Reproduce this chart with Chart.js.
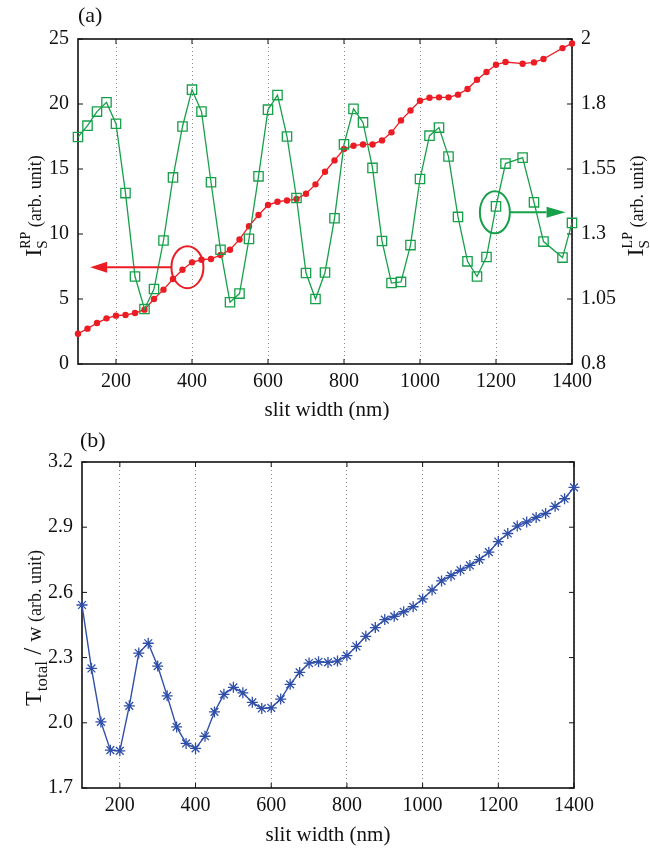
<!DOCTYPE html>
<html>
<head>
<meta charset="utf-8">
<script src="https://cdn.jsdelivr.net/npm/chart.js@4.4.1/dist/chart.umd.min.js"></script>
<style>
  body { margin: 0; background: #fff; }
  #wrap { position: relative; width: 650px; height: 849px; }
  canvas { position: absolute; left: 0; }
</style>
</head>
<body>
<div id="wrap">
  <canvas id="panelA" width="650" height="420" style="top:0"></canvas>
  <canvas id="panelB" width="650" height="429" style="top:420px"></canvas>
</div>
<script>
// ---- data ----
// panel (a): slit widths where IS_RP / IS_LP were sampled
const widthA = [100, 125, 150, 175, 200, 225, 250, 275, 300, 325, 350, 375, 400, 425, 450, 475,
  500, 525, 550, 575, 600, 625, 650, 675, 700, 725, 750, 775, 800, 825, 850, 875, 900, 925, 950,
  975, 1000, 1025, 1050, 1075, 1100, 1125, 1150, 1175, 1200, 1225, 1270, 1300, 1325, 1375, 1400];
const isRP = [2.33, 2.72, 3.15, 3.51, 3.72, 3.77, 3.92, 4.18, 5.0, 5.72, 6.54, 7.25, 7.82, 8.02, 8.08, 8.38,
  8.79, 9.58, 10.6, 11.46, 12.23, 12.48, 12.58, 12.69, 13.1, 13.82, 14.79, 15.66, 16.54, 16.79, 16.89, 16.89, 17.2, 17.82, 18.74,
  19.5, 20.25, 20.48, 20.51, 20.51, 20.72, 21.15, 21.87, 22.46, 23.02, 23.23, 23.1, 23.2, 23.46, 24.3, 24.66];
const isLP = [1.638, 1.68, 1.732, 1.766, 1.687, 1.431, 1.123, 1.003, 1.077, 1.256, 1.489, 1.677, 1.813, 1.732, 1.471, 1.222,
  1.028, 1.06, 1.262, 1.493, 1.739, 1.793, 1.64, 1.413, 1.136, 1.04, 1.138, 1.338, 1.611, 1.742, 1.692, 1.524, 1.254, 1.099, 1.103,
  1.239, 1.483, 1.643, 1.673, 1.566, 1.343, 1.179, 1.123, 1.195, 1.382, 1.54, 1.562, 1.397, 1.252, 1.193, 1.321];

// panel (b)
const widthB = [100, 125, 150, 175, 200, 225, 250, 275, 300, 325, 350, 375, 400, 425, 450, 475,
  500, 525, 550, 575, 600, 625, 650, 675, 700, 725, 750, 775, 800, 825, 850, 875, 900, 925, 950,
  975, 1000, 1025, 1050, 1075, 1100, 1125, 1150, 1175, 1200, 1225, 1250, 1275, 1300, 1325, 1350, 1375, 1400];
const tTotal = [2.542, 2.25, 2.004, 1.874, 1.871, 2.078, 2.321, 2.366, 2.261, 2.124, 1.981, 1.905, 1.882, 1.938, 2.05, 2.131,
  2.163, 2.138, 2.094, 2.066, 2.069, 2.109, 2.177, 2.232, 2.275, 2.281, 2.278, 2.284, 2.309, 2.352, 2.398, 2.438, 2.475, 2.49, 2.511,
  2.534, 2.57, 2.611, 2.653, 2.677, 2.702, 2.724, 2.751, 2.785, 2.834, 2.871, 2.905, 2.924, 2.945, 2.963, 2.996, 3.031, 3.083];

// ticks
const xTicks = [200, 400, 600, 800, 1000, 1200, 1400];
const leftTicksA = [0, 5, 10, 15, 20, 25];
const rightTicksA = [0.8, 1.04, 1.28, 1.52, 1.76, 2.0];
const rightLabelsA = ['0.8', '1.05', '1.3', '1.55', '1.8', '2'];
const ticksB = [1.7, 2.0, 2.3, 2.6, 2.9, 3.2];

const SERIF = '"Liberation Serif", "Times New Roman", serif';
const RED = '#ec1c24';
const GREEN = '#17a04a';
const BLUE = '#2f4fa8';

Chart.defaults.font.family = SERIF;
Chart.defaults.font.size = 20;
Chart.defaults.color = '#111';

const pairs = (xs, ys) => xs.map((x, i) => ({ x: x, y: ys[i] }));
const fixTicks = list => scale => { scale.ticks = list.map(v => ({ value: v })); };

// draws text with sub/superscripts, optionally rotated (reads upward)
function drawRich(ctx, it) {
  ctx.save();
  ctx.fillStyle = '#111';
  ctx.textBaseline = 'alphabetic';
  const w = it.parts.map(p => { ctx.font = p.size + 'px ' + SERIF; return ctx.measureText(p.t).width; });
  let total = 0, pend = 0;
  it.parts.forEach((p, i) => {
    if (p.stack) { pend = w[i]; } else { total += Math.max(w[i], pend); pend = 0; }
  });
  ctx.translate(it.x, it.y);
  if (it.rotate) ctx.rotate(-Math.PI / 2);
  let x = it.align === 'left' ? 0 : -total / 2;
  pend = 0;
  it.parts.forEach((p, i) => {
    ctx.font = p.size + 'px ' + SERIF;
    ctx.fillText(p.t, x, p.dy || 0);
    if (p.stack) { pend = w[i]; } else { x += Math.max(w[i], pend); pend = 0; }
  });
  ctx.restore();
}

const richTitles = {
  id: 'richTitles',
  afterDraw(chart, args, opts) {
    (opts.items || []).forEach(it => drawRich(chart.ctx, it));
  }
};

// matlab-like box with inward tick marks
const boxFrame = {
  id: 'boxFrame',
  beforeDatasetsDraw(chart, args, opts) {
    const { ctx, chartArea: a } = chart;
    const L = 5;
    ctx.save();
    ctx.strokeStyle = '#111';
    ctx.lineWidth = 1;
    ctx.beginPath();
    const xs = chart.scales.x;
    xs.ticks.forEach(t => {
      const p = xs.getPixelForValue(t.value);
      ctx.moveTo(p, a.bottom); ctx.lineTo(p, a.bottom - L);
      ctx.moveTo(p, a.top); ctx.lineTo(p, a.top + L);
    });
    const yl = chart.scales.y;
    const yr = chart.scales.y2 || yl;
    yl.ticks.forEach(t => {
      const p = yl.getPixelForValue(t.value);
      ctx.moveTo(a.left, p); ctx.lineTo(a.left + L, p);
    });
    yr.ticks.forEach(t => {
      const p = yr.getPixelForValue(t.value);
      ctx.moveTo(a.right, p); ctx.lineTo(a.right - L, p);
    });
    ctx.stroke();
    ctx.lineWidth = 1.6;
    ctx.strokeRect(a.left, a.top, a.right - a.left, a.bottom - a.top);
    ctx.restore();
  }
};

// circled markers with arrows pointing at the axis each curve belongs to
const axisArrows = {
  id: 'axisArrows',
  afterDatasetsDraw(chart, args, opts) {
    const ctx = chart.ctx;
    const xs = chart.scales.x;
    (opts.marks || []).forEach(m => {
      const ys = chart.scales[m.axis];
      const cx = xs.getPixelForValue(m.cx);
      const cy = ys.getPixelForValue(m.cy);
      const tip = xs.getPixelForValue(m.tipX);
      const dir = Math.sign(tip - cx);
      const start = cx + dir * m.rx;
      ctx.save();
      ctx.strokeStyle = m.color;
      ctx.fillStyle = m.color;
      ctx.lineWidth = 2;
      ctx.beginPath();
      ctx.ellipse(cx, cy, m.rx, m.ry, 0, 0, Math.PI * 2);
      ctx.stroke();
      ctx.beginPath();
      ctx.moveTo(start, cy);
      ctx.lineTo(tip - dir * m.head, cy);
      ctx.stroke();
      ctx.beginPath();
      ctx.moveTo(tip, cy);
      ctx.lineTo(tip - dir * m.head, cy - 5.5);
      ctx.lineTo(tip - dir * m.head, cy + 5.5);
      ctx.closePath();
      ctx.fill();
      ctx.restore();
    });
  }
};

const xGrid = {
  color: '#8c8c8c',
  lineWidth: 1,
  drawTicks: false
};
const plainLabel = v => String(v);

// ---- panel (a) ----
new Chart(document.getElementById('panelA'), {
  type: 'line',
  data: {
    datasets: [{
      label: 'IS LP',
      data: pairs(widthA, isLP),
      yAxisID: 'y2',
      order: 0,
      borderColor: GREEN,
      borderWidth: 1.3,
      pointStyle: 'rect',
      pointRadius: 6.6,
      pointBorderWidth: 1.3,
      pointBackgroundColor: 'rgba(0,0,0,0)',
      pointBorderColor: GREEN,
      clip: false
    }, {
      label: 'IS RP',
      data: pairs(widthA, isRP),
      yAxisID: 'y',
      order: 1,
      borderColor: RED,
      borderWidth: 1.3,
      pointStyle: 'circle',
      pointRadius: 3.2,
      pointBorderWidth: 0,
      pointBackgroundColor: RED,
      clip: false
    }]
  },
  options: {
    responsive: false,
    animation: false,
    layout: { padding: { top: 39, left: 0, right: 0, bottom: 0 } },
    plugins: {
      legend: { display: false },
      tooltip: { enabled: false },
      richTitles: {
        items: [
          { x: 78, y: 22, parts: [{ t: '(a)', size: 22 }], align: 'left' },
          { x: 327, y: 416, parts: [{ t: 'slit width (nm)', size: 21 }] },
          { x: 41, y: 206, rotate: true, parts: [
            { t: 'I', size: 24 }, { t: 'S', size: 15, dy: 6, stack: true }, { t: 'RP', size: 14, dy: -11 },
            { t: ' (arb. unit)', size: 18 }] },
          { x: 643, y: 206, rotate: true, parts: [
            { t: 'I', size: 24 }, { t: 'S', size: 15, dy: 6, stack: true }, { t: 'LP', size: 14, dy: -11 },
            { t: ' (arb. unit)', size: 18 }] }
        ]
      },
      axisArrows: {
        marks: [
          { axis: 'y', cx: 388, cy: 7.45, tipX: 132, rx: 16, ry: 21, head: 17, color: RED },
          { axis: 'y2', cx: 1197, cy: 1.36, tipX: 1383, rx: 15, ry: 21, head: 19, color: GREEN }
        ]
      }
    },
    scales: {
      x: {
        type: 'linear', min: 100, max: 1400,
        afterBuildTicks: fixTicks(xTicks),
        afterFit: s => { s.height = 56; },
        grid: xGrid,
        border: { display: false, dash: [1, 3] },
        ticks: { padding: 6, maxRotation: 0, callback: plainLabel }
      },
      y: {
        position: 'left', min: 0, max: 25,
        afterBuildTicks: fixTicks(leftTicksA),
        afterFit: s => { s.width = 78; },
        grid: { display: false, drawTicks: false },
        border: { display: false },
        ticks: { padding: 9, callback: plainLabel }
      },
      y2: {
        position: 'right', min: 0.8, max: 2,
        afterBuildTicks: fixTicks(rightTicksA),
        afterFit: s => { s.width = 78; },
        grid: { display: false, drawTicks: false },
        border: { display: false },
        ticks: { padding: 9, callback: (v, i) => rightLabelsA[i] }
      }
    }
  },
  plugins: [boxFrame, axisArrows, richTitles]
});

// ---- panel (b) ----
new Chart(document.getElementById('panelB'), {
  type: 'line',
  data: {
    datasets: [{
      label: 'T total / w',
      data: pairs(widthB, tTotal),
      borderColor: BLUE,
      borderWidth: 1.4,
      pointStyle: 'star',
      pointRadius: 5.5,
      pointBorderWidth: 1.3,
      pointBorderColor: BLUE,
      pointBackgroundColor: BLUE,
      clip: false
    }]
  },
  options: {
    responsive: false,
    animation: false,
    layout: { padding: { top: 42, left: 0, right: 76, bottom: 0 } },
    plugins: {
      legend: { display: false },
      tooltip: { enabled: false },
      richTitles: {
        items: [
          { x: 80, y: 27, parts: [{ t: '(b)', size: 22 }], align: 'left' },
          { x: 328, y: 421, parts: [{ t: 'slit width (nm)', size: 21 }] },
          { x: 41, y: 208, rotate: true, parts: [
            { t: 'T', size: 24 }, { t: 'total', size: 17, dy: 6 }, { t: ' / ', size: 25 },
            { t: 'w', size: 21 }, { t: ' (arb. unit)', size: 18 }] }
        ]
      }
    },
    scales: {
      x: {
        type: 'linear', min: 100, max: 1400,
        afterBuildTicks: fixTicks(xTicks),
        afterFit: s => { s.height = 61; },
        grid: xGrid,
        border: { display: false, dash: [1, 3] },
        ticks: { padding: 6, maxRotation: 0, callback: plainLabel }
      },
      y: {
        position: 'left', min: 1.7, max: 3.2,
        afterBuildTicks: fixTicks(ticksB),
        afterFit: s => { s.width = 82; },
        grid: { display: false, drawTicks: false },
        border: { display: false },
        ticks: { padding: 9, callback: v => v.toFixed(1) }
      }
    }
  },
  plugins: [boxFrame, richTitles]
});
</script>
</body>
</html>
